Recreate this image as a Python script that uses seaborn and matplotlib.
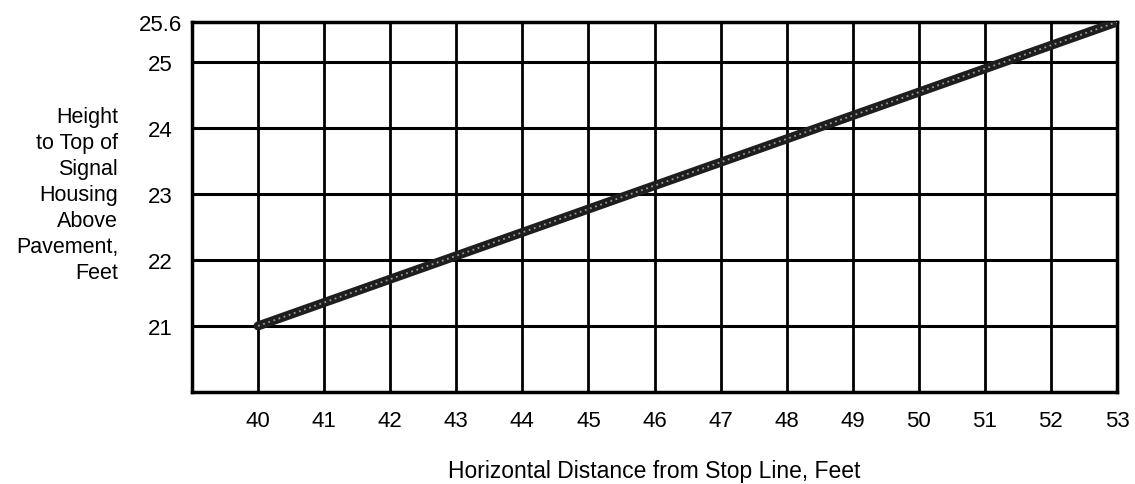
import matplotlib
matplotlib.use("Agg")
import matplotlib.pyplot as plt
import pandas as pd
import seaborn as sns

# signal housing height vs distance from stop line
distance_ft = [40, 53]
height_ft = [21.0, 25.6]

x_ticks = list(range(40, 54))
y_ticks = [21, 22, 23, 24, 25, 25.6]
y_tick_labels = ["21", "22", "23", "24", "25", "25.6"]
y_grid = [21, 22, 23, 24, 25]

x_label = "Horizontal Distance from Stop Line, Feet"
y_label = "Height\nto Top of\nSignal\nHousing\nAbove\nPavement,\nFeet"

sns.set_style("white")
plt.rcParams["font.family"] = ["Liberation Sans", "DejaVu Sans"]
plt.rcParams["text.color"] = "black"
plt.rcParams["axes.labelcolor"] = "black"

df = pd.DataFrame({"distance": distance_ft, "height": height_ft})

fig = plt.figure(figsize=(11.35, 4.85), dpi=100)
ax = fig.add_axes([192 / 1135, 1 - 393 / 485, 925 / 1135, 370 / 485])

for gx in x_ticks:
    ax.axvline(gx, color="black", lw=2, zorder=1)
for gy in y_grid:
    ax.axhline(gy, color="black", lw=2.2, zorder=1)

sns.lineplot(data=df, x="distance", y="height", ax=ax, color="#1e1e1e",
             lw=6.5, zorder=3)
sns.lineplot(data=df, x="distance", y="height", ax=ax, color="#9a9a9a",
             lw=1.3, ls=(0, (1, 2)), zorder=4)

ax.set_xlim(39, 53)
ax.set_ylim(20, 25.6)

ax.set_xticks(x_ticks)
ax.set_xticklabels([str(t) for t in x_ticks])
ax.set_yticks(y_ticks)
ax.set_yticklabels(y_tick_labels)
ax.tick_params(axis="both", length=0, labelsize=16, colors="black")
ax.tick_params(axis="x", pad=13)
ax.tick_params(axis="y", pad=23)
for lab in ax.get_yticklabels():
    lab.set_horizontalalignment("center")

for side in ax.spines.values():
    side.set_color("black")
    side.set_linewidth(2.5)

ax.set_xlabel(x_label, fontsize=16.5, va="center")
ax.xaxis.set_label_coords(0.5, -0.211)
ax.set_ylabel(y_label, fontsize=15.5, rotation=0, ha="right", va="center",
              linespacing=1.32)
ax.yaxis.set_label_coords(-0.080, 0.534)

fig.savefig("out.png", dpi=100)
plt.close(fig)
